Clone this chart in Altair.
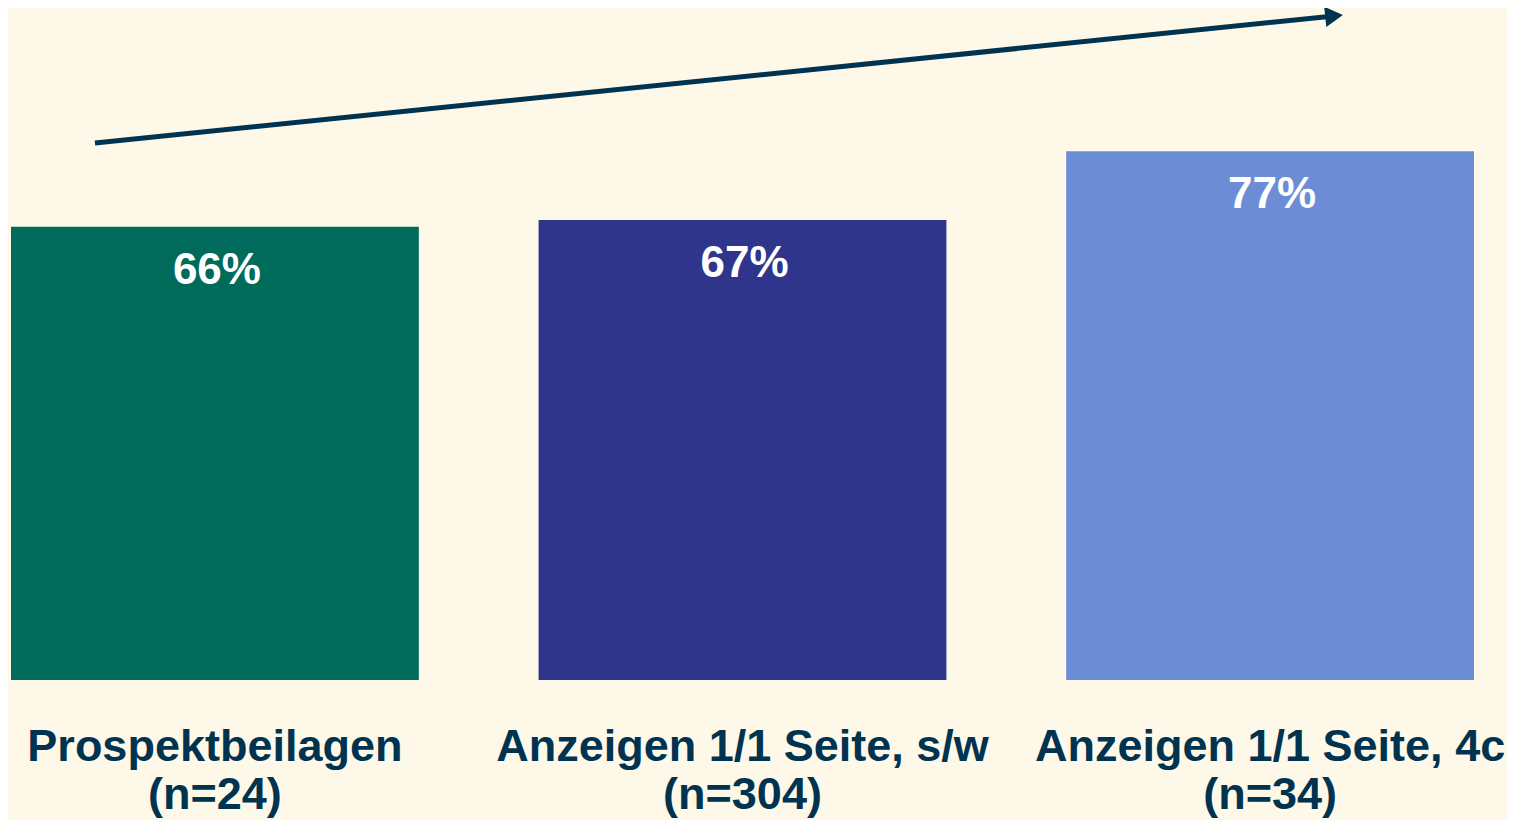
import altair as alt
import pandas as pd

categories = ["Prospektbeilagen\n(n=24)", "Anzeigen 1/1 Seite, s/w\n(n=304)", "Anzeigen 1/1 Seite, 4c\n(n=34)"]
values = [66, 67, 77]
colors = ["#006B5A", "#2E358B", "#6C8CD5"]

# trend arrow annotation (x as fraction of plot width, y in percent units)
arrow_x = [0.0592, 0.9027]
arrow_y = [78.2, 96.72]

BG = "#FEF8E8"
NAVY = "#003350"
FONT = "Liberation Sans"

df = pd.DataFrame({"cat": categories, "val": values, "label": [f"{v}%" for v in values]})
arrow_line = pd.DataFrame({"x0": [arrow_x[0]], "x1": [arrow_x[1]], "y0": [arrow_y[0]], "y1": [arrow_y[1]]})
arrow_head = pd.DataFrame({"x": [arrow_x[1]], "y": [arrow_y[1]]})

yscale = alt.Scale(domain=[0, 96.42], nice=False, zero=True)
bscale = alt.Scale(type="band", domain=categories, paddingInner=0.227, paddingOuter=0.0057)

bars = alt.Chart(df).mark_bar().encode(
    x=alt.X("cat:N", sort=categories, title=None, scale=bscale,
            axis=alt.Axis(labelExpr="split(datum.label, '\\n')", labelAngle=0,
                          labelFontSize=45, labelFontWeight="bold", labelColor=NAVY,
                          labelFont=FONT, labelLineHeight=48, labelPadding=44,
                          domain=False, ticks=False, labelLimit=1000)),
    y=alt.Y("val:Q", scale=yscale, axis=None),
    color=alt.Color("cat:N", sort=categories, scale=alt.Scale(domain=categories, range=colors), legend=None),
)
texts = alt.Chart(df).mark_text(color="white", fontSize=44, fontWeight="bold", font=FONT,
                                baseline="alphabetic", dy=57, dx=2).encode(
    x=alt.X("cat:N", sort=categories, scale=bscale, axis=None, bandPosition=0.5),
    y=alt.Y("val:Q", scale=yscale, axis=None),
    text="label:N",
)

xlin = alt.Scale(domain=[0, 1], nice=False, zero=False)
line = alt.Chart(arrow_line).mark_rule(color=NAVY, strokeWidth=5).encode(
    x=alt.X("x0:Q", scale=xlin, axis=None), x2="x1:Q",
    y=alt.Y("y0:Q", scale=yscale, axis=None), y2="y1:Q",
)
head = alt.Chart(arrow_head).mark_point(shape="triangle-right", filled=True, color=NAVY,
                                         size=420, angle=354, opacity=1).encode(
    x=alt.X("x:Q", scale=xlin, axis=None),
    y=alt.Y("y:Q", scale=yscale, axis=None),
)

chart = alt.layer(bars, texts, line, head).resolve_scale(x="independent").properties(
    width=1469, height=662, background=BG,
    autosize=alt.AutoSizeParams(type="none"),
    padding={"left": 0, "top": 10, "right": 30, "bottom": 140},
).configure_view(stroke=None, fill=BG)

chart.save("out.html", embed_options={"renderer": "svg", "actions": False})
